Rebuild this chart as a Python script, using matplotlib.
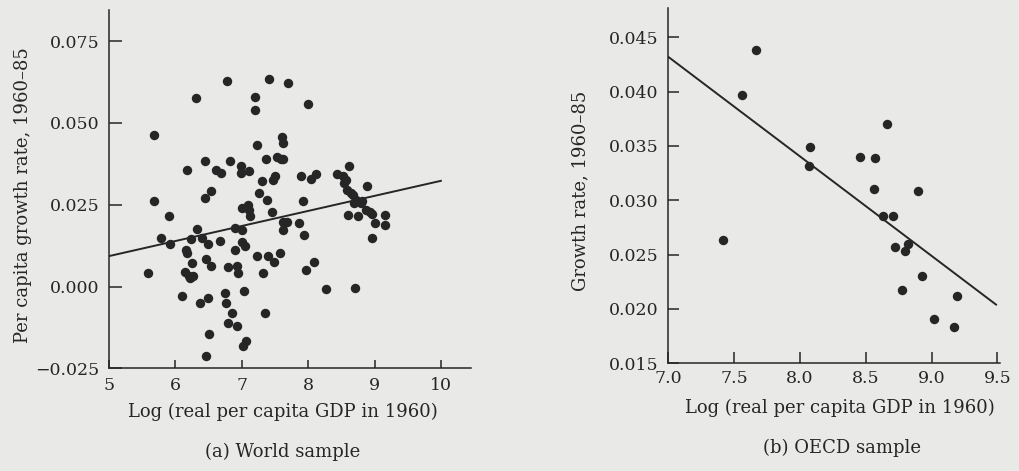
import matplotlib
matplotlib.use("Agg")
import matplotlib.pyplot as plt
from matplotlib.ticker import FuncFormatter

plt.rcParams['font.family'] = ['DejaVu Serif']

# (a) World sample
world_x = [5.59, 5.675, 5.685, 5.78, 5.9, 5.915, 6.105, 6.15, 6.165, 6.18,
           6.18, 6.205, 6.215, 6.255, 6.265, 6.24, 6.305, 6.32, 6.365, 6.405,
           6.44, 6.44, 6.465, 6.455, 6.485, 6.49, 6.505, 6.53, 6.54, 6.615,
           6.68, 6.665, 6.75, 6.765, 6.775, 6.795, 6.795, 6.83, 6.855, 6.895,
           6.905, 6.925, 6.93, 6.945, 6.985, 6.99, 7.005, 7.005, 7.01, 7.02,
           7.03, 7.055, 7.07, 7.105, 7.095, 7.11, 7.125, 7.205, 7.205, 7.23,
           7.23, 7.255, 7.31, 7.325, 7.35, 7.365, 7.375, 7.4, 7.415, 7.45,
           7.465, 7.495, 7.49, 7.525, 7.575, 7.59, 7.605, 7.615, 7.625, 7.615,
           7.625, 7.64, 7.675, 7.695, 7.855, 7.895, 7.92, 7.94, 7.975, 8.005,
           8.045, 8.09, 8.115, 8.265, 8.43, 8.53, 8.54, 8.565, 8.615, 8.59,
           8.605, 8.64, 8.705, 8.68, 8.69, 8.715, 8.755, 8.79, 8.815, 8.875,
           8.89, 8.925, 8.965, 8.965, 9.005, 9.155, 9.165]
world_y = [0.0042, 0.0462, 0.0260, 0.0149, 0.0215, 0.0129, -0.0029, 0.0045, 0.0111, 0.0101,
           0.0357, 0.0032, 0.0027, 0.0073, 0.0032, 0.0144, 0.0576, 0.0177, -0.0051, 0.0149,
           0.0383, 0.0271, -0.0212, 0.0083, -0.0034, 0.0129, -0.0144, 0.0064, 0.0292, 0.0355,
           0.0347, 0.0139, -0.0019, -0.0049, 0.0628, -0.0110, 0.0060, 0.0383, -0.0080, 0.0180,
           0.0113, -0.0120, 0.0062, 0.0042, 0.0368, 0.0347, 0.0174, 0.0240, 0.0137, -0.0183,
           -0.0014, 0.0123, -0.0168, 0.0352, 0.0250, 0.0235, 0.0215, 0.0579, 0.0538, 0.0432,
           0.0093, 0.0286, 0.0322, 0.0040, -0.0082, 0.0391, 0.0264, 0.0093, 0.0635, 0.0228,
           0.0327, 0.0337, 0.0076, 0.0396, 0.0103, 0.0391, 0.0457, 0.0439, 0.0198, 0.0174,
           0.0391, 0.0193, 0.0198, 0.0622, 0.0195, 0.0337, 0.0261, 0.0157, 0.0050, 0.0559,
           0.0330, 0.0076, 0.0345, -0.0009, 0.0343, 0.0337, 0.0317, 0.0325, 0.0368, 0.0294,
           0.0218, 0.0286, -0.0006, 0.0279, 0.0255, 0.0265, 0.0215, 0.0255, 0.0261, 0.0233,
           0.0307, 0.0228, 0.0223, 0.0147, 0.0195, 0.0187, 0.0218]
world_fit_x = [5.0, 10.0]
world_fit_y = [0.0093, 0.0323]

# (b) OECD sample
oecd_x = [7.416, 7.562, 7.663, 8.066, 8.076, 8.457, 8.57, 8.565, 8.658, 8.63,
          8.709, 8.721, 8.795, 8.82, 8.9, 8.928, 8.777, 9.193, 9.016, 9.172]
oecd_y = [0.0263, 0.0397, 0.0438, 0.0332, 0.0349, 0.0340, 0.0339, 0.0310, 0.0370, 0.0286,
          0.0286, 0.0257, 0.0253, 0.0260, 0.0309, 0.0230, 0.0217, 0.0212, 0.0191, 0.0183]
oecd_fit_x = [7.0, 9.49]
oecd_fit_y = [0.0432, 0.0204]

bg = '#e9e9e7'
ink = '#262626'

def fmt(dec):
    # real minus sign, like the book
    return FuncFormatter(lambda v, p: f'{v:.{dec}f}'.replace('-', '\u2212'))

fig = plt.figure(figsize=(10.2, 4.71), dpi=100, facecolor=bg)

def style(ax):
    ax.set_facecolor(bg)
    for s in ['top', 'right']:
        ax.spines[s].set_visible(False)
    for s in ['left', 'bottom']:
        ax.spines[s].set_linewidth(1.1)
        ax.spines[s].set_color(ink)
    ax.tick_params(direction='in', colors=ink, labelsize=12.5, width=1.1)
    ax.tick_params(axis='y', length=9, pad=7)
    ax.tick_params(axis='x', length=6, pad=6)

# left panel
ax1 = fig.add_axes([0.1069, 0.218, 0.3546, 0.7607])
style(ax1)
ax1.plot(world_x, world_y, 'o', color=ink, markersize=6.8, markeredgewidth=0)
ax1.plot(world_fit_x, world_fit_y, color=ink, linewidth=1.4)
ax1.set_xlim(5, 10.45)
ax1.set_ylim(-0.025, 0.0845)
ax1.set_xticks([5, 6, 7, 8, 9, 10])
ax1.set_yticks([-0.025, 0.0, 0.025, 0.05, 0.075])
ax1.yaxis.set_major_formatter(fmt(3))
ax1.xaxis.set_major_formatter(fmt(0))

fig.text(23 / 1020, 1 - 195 / 471, 'Per capita growth rate, 1960–85', rotation=90,
         ha='center', va='center', fontsize=13, color=ink)
fig.text(283 / 1020, 1 - 412 / 471, 'Log (real per capita GDP in 1960)',
         ha='center', va='center', fontsize=13, color=ink)
fig.text(283 / 1020, 1 - 452 / 471, '(a) World sample',
         ha='center', va='center', fontsize=13, color=ink)

# right panel
ax2 = fig.add_axes([0.6552, 0.2287, 0.3252, 0.7544])
style(ax2)
ax2.plot(oecd_x, oecd_y, 'o', color=ink, markersize=6.8, markeredgewidth=0)
ax2.plot(oecd_fit_x, oecd_fit_y, color=ink, linewidth=1.4)
ax2.set_xlim(7.0, 9.52)
ax2.set_ylim(0.015, 0.0477)
ax2.set_xticks([7.0, 7.5, 8.0, 8.5, 9.0, 9.5])
ax2.set_yticks([0.015, 0.02, 0.025, 0.03, 0.035, 0.04, 0.045])
ax2.yaxis.set_major_formatter(fmt(3))
ax2.xaxis.set_major_formatter(fmt(1))
ax2.tick_params(axis='y', length=8)
ax2.tick_params(axis='x', length=8, pad=5)

fig.text(580 / 1020, 1 - 191 / 471, 'Growth rate, 1960–85', rotation=90,
         ha='center', va='center', fontsize=13, color=ink)
fig.text(840 / 1020, 1 - 408 / 471, 'Log (real per capita GDP in 1960)',
         ha='center', va='center', fontsize=13, color=ink)
fig.text(842 / 1020, 1 - 448 / 471, '(b) OECD sample',
         ha='center', va='center', fontsize=13, color=ink)

fig.savefig('out.png', dpi=100, facecolor=bg)
